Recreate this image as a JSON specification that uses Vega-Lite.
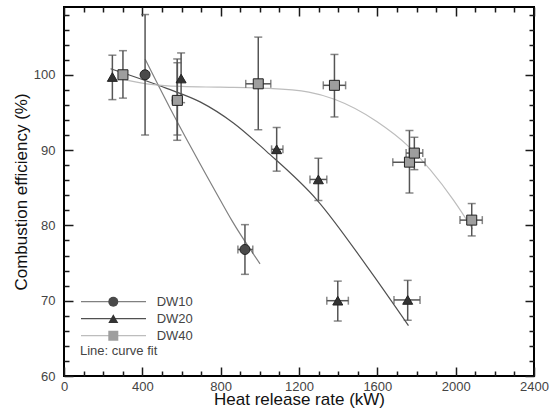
{
  "$schema": "https://vega.github.io/schema/vega-lite/v6.json",
  "width": 470,
  "height": 369,
  "autosize": {"type": "none"},
  "padding": {"left": 64, "top": 7, "right": 24, "bottom": 34},
  "background": "white",
  "config": {
    "font": "Liberation Sans",
    "view": {"stroke": "#000", "strokeWidth": 2},
    "axis": {
      "domain": false,
      "grid": false,
      "ticks": true,
      "tickColor": "#1a1a1a",
      "tickWidth": 1.5,
      "tickOpacity": 1,
      "labelFont": "Liberation Sans",
      "labelFontSize": 13,
      "labelColor": "#444",
      "labelFlush": false,
      "labelOverlap": false,
      "titleFont": "Liberation Sans",
      "titleFontSize": 17,
      "titleFontWeight": "normal",
      "titleColor": "#111"
    }
  },
  "datasets": {
    "points": [
      {"sample": "DW10", "x": 414, "y": 100.0, "ylo": 92.0, "yhi": 108.0},
      {"sample": "DW10", "x": 578, "y": 96.6, "ylo": 91.3, "yhi": 102.1, "xlo": 553, "xhi": 603},
      {"sample": "DW10", "x": 924, "y": 76.8, "ylo": 73.5, "yhi": 80.1, "xlo": 888, "xhi": 964},
      {"sample": "DW20", "x": 247, "y": 99.7, "ylo": 96.7, "yhi": 102.6},
      {"sample": "DW20", "x": 598, "y": 99.5, "ylo": 96.3, "yhi": 102.9},
      {"sample": "DW20", "x": 1086, "y": 90.1, "ylo": 87.2, "yhi": 93.0, "xlo": 1060, "xhi": 1118},
      {"sample": "DW20", "x": 1299, "y": 86.1, "ylo": 83.3, "yhi": 88.9, "xlo": 1256, "xhi": 1342},
      {"sample": "DW20", "x": 1398, "y": 70.0, "ylo": 67.3, "yhi": 72.6, "xlo": 1342, "xhi": 1452},
      {"sample": "DW20", "x": 1755, "y": 70.1, "ylo": 67.4, "yhi": 72.7, "xlo": 1685, "xhi": 1818},
      {"sample": "DW40", "x": 301, "y": 100.0, "ylo": 96.9, "yhi": 103.2},
      {"sample": "DW40", "x": 579, "y": 96.6, "ylo": 92.0, "yhi": 101.6},
      {"sample": "DW40", "x": 992, "y": 98.8, "ylo": 92.7, "yhi": 105.0, "xlo": 928, "xhi": 1056},
      {"sample": "DW40", "x": 1381, "y": 98.6, "ylo": 94.4, "yhi": 102.7, "xlo": 1324, "xhi": 1438},
      {"sample": "DW40", "x": 1764, "y": 88.4, "ylo": 84.3, "yhi": 92.6, "xlo": 1679, "xhi": 1844},
      {"sample": "DW40", "x": 1789, "y": 89.6, "ylo": 87.4, "yhi": 91.7, "xlo": 1747, "xhi": 1832},
      {"sample": "DW40", "x": 2082, "y": 80.7, "ylo": 78.6, "yhi": 82.9, "xlo": 2022, "xhi": 2136}
    ],
    "fits": [
      {"curve": "DW10", "x": 414, "y": 102.1},
      {"curve": "DW10", "x": 541, "y": 95.6},
      {"curve": "DW10", "x": 652, "y": 90.2},
      {"curve": "DW10", "x": 797, "y": 83.4},
      {"curve": "DW10", "x": 856, "y": 80.7},
      {"curve": "DW10", "x": 1001, "y": 74.9},
      {"curve": "DW20", "x": 238, "y": 100.8},
      {"curve": "DW20", "x": 524, "y": 98.2},
      {"curve": "DW20", "x": 695, "y": 96.4},
      {"curve": "DW20", "x": 865, "y": 93.6},
      {"curve": "DW20", "x": 1035, "y": 89.8},
      {"curve": "DW20", "x": 1291, "y": 83.4},
      {"curve": "DW20", "x": 1546, "y": 74.6},
      {"curve": "DW20", "x": 1759, "y": 66.7},
      {"curve": "DW40", "x": 300, "y": 99.4},
      {"curve": "DW40", "x": 422, "y": 98.8},
      {"curve": "DW40", "x": 600, "y": 98.45},
      {"curve": "DW40", "x": 797, "y": 98.35},
      {"curve": "DW40", "x": 1035, "y": 98.2},
      {"curve": "DW40", "x": 1250, "y": 97.7},
      {"curve": "DW40", "x": 1381, "y": 96.75},
      {"curve": "DW40", "x": 1597, "y": 93.8},
      {"curve": "DW40", "x": 1759, "y": 90.5},
      {"curve": "DW40", "x": 1988, "y": 83.4},
      {"curve": "DW40", "x": 2087, "y": 79.5}
    ]
  },
  "layer": [
    {
      "data": {"name": "fits"},
      "mark": {"type": "line", "strokeWidth": 1.2, "interpolate": "monotone"},
      "encoding": {
        "x": {
          "field": "x", "type": "quantitative",
          "scale": {"domain": [0, 2400], "nice": false, "zero": false},
          "axis": {
            "orient": "bottom",
            "values": [0, 400, 800, 1200, 1600, 2000, 2400],
            "format": "d",
            "ticks": false,
            "tickSize": 0,
            "labelPadding": 4,
            "title": "Heat release rate (kW)",
            "titlePadding": -2
          }
        },
        "y": {
          "field": "y", "type": "quantitative",
          "scale": {"domain": [60, 109], "nice": false, "zero": false},
          "axis": {
            "orient": "left",
            "values": [60, 70, 80, 90, 100],
            "format": "d",
            "ticks": false,
            "tickSize": 0,
            "labelPadding": 9,
            "title": "Combustion efficiency (%)",
            "titlePadding": 3
          }
        },
        "stroke": {
          "field": "curve", "type": "nominal",
          "scale": {"range": ["#808080", "#505050", "#bdbdbd"]},
          "legend": {
            "orient": "none", "legendX": 16, "legendY": 286.2,
            "title": "Line: curve fit", "titleOrient": "bottom", "titleAnchor": "start",
            "titleFont": "Liberation Sans", "titleFontSize": 13, "titleFontWeight": "normal",
            "titleColor": "#444", "titlePadding": 1,
            "clipHeight": 17, "rowPadding": 0, "padding": 0,
            "symbolType": "stroke", "symbolSize": 4225, "symbolStrokeWidth": 1.2,
            "labelExpr": "''", "labelFontSize": 13
          }
        }
      }
    },
    {
      "data": {"name": "points"},
      "mark": {"type": "rule", "color": "#555", "strokeWidth": 1.5},
      "encoding": {
        "x": {
          "field": "x", "type": "quantitative",
          "axis": {"orient": "top", "offset": -369, "values": [0, 400, 800, 1200, 1600, 2000, 2400], "labels": false, "ticks": true, "tickSize": 9, "title": null}
        },
        "y": {
          "field": "ylo", "type": "quantitative",
          "axis": {"orient": "right", "offset": -470, "values": [60, 70, 80, 90, 100], "labels": false, "ticks": true, "tickSize": 9, "title": null}
        },
        "y2": {"field": "yhi"}
      }
    },
    {
      "data": {"name": "points"},
      "transform": [{"filter": "isValid(datum.xlo)"}],
      "mark": {"type": "rule", "color": "#555", "strokeWidth": 1.5},
      "encoding": {
        "x": {
          "field": "xlo", "type": "quantitative",
          "axis": {"orient": "top", "offset": -369, "values": [100,200,300,500,600,700,900,1000,1100,1300,1400,1500,1700,1800,1900,2100,2200,2300], "labels": false, "ticks": true, "tickSize": 5, "title": null}
        },
        "x2": {"field": "xhi"},
        "y": {
          "field": "y", "type": "quantitative",
          "axis": {"orient": "right", "offset": -470, "values": [62,64,66,68,72,74,76,78,82,84,86,88,92,94,96,98,102,104,106,108], "labels": false, "ticks": true, "tickSize": 5, "title": null}
        }
      }
    },
    {
      "data": {"name": "points"},
      "transform": [{"fold": ["ylo", "yhi"], "as": ["end", "v"]}],
      "mark": {"type": "tick", "orient": "horizontal", "color": "#555", "size": 8, "thickness": 1.5},
      "encoding": {
        "x": {
          "field": "x", "type": "quantitative",
          "axis": {"orient": "bottom", "offset": -369, "values": [0, 400, 800, 1200, 1600, 2000, 2400], "labels": false, "ticks": true, "tickSize": 9, "title": null}
        },
        "y": {
          "field": "v", "type": "quantitative",
          "axis": {"orient": "left", "offset": -470, "values": [60, 70, 80, 90, 100], "labels": false, "ticks": true, "tickSize": 9, "title": null}
        }
      }
    },
    {
      "data": {"name": "points"},
      "transform": [{"fold": ["xlo", "xhi"], "as": ["end", "v"]}, {"filter": "isValid(datum.v)"}],
      "mark": {"type": "tick", "orient": "vertical", "color": "#555", "size": 8, "thickness": 1.5},
      "encoding": {
        "x": {
          "field": "v", "type": "quantitative",
          "axis": {"orient": "bottom", "offset": -369, "values": [100,200,300,500,600,700,900,1000,1100,1300,1400,1500,1700,1800,1900,2100,2200,2300], "labels": false, "ticks": true, "tickSize": 5, "title": null}
        },
        "y": {
          "field": "y", "type": "quantitative",
          "axis": {"orient": "left", "offset": -470, "values": [62,64,66,68,72,74,76,78,82,84,86,88,92,94,96,98,102,104,106,108], "labels": false, "ticks": true, "tickSize": 5, "title": null}
        }
      }
    },
    {
      "data": {"name": "points"},
      "mark": {"type": "point", "filled": true, "size": 100, "stroke": "#222", "strokeWidth": 1, "opacity": 1},
      "encoding": {
        "x": {"field": "x", "type": "quantitative", "axis": null},
        "y": {"field": "y", "type": "quantitative", "axis": null},
        "fill": {
          "field": "sample", "type": "nominal",
          "scale": {"range": ["#4a4a4a", "#333333", "#9e9e9e"]},
          "legend": {
            "orient": "none", "legendX": 42.8, "legendY": 286.2, "title": null,
            "clipHeight": 17, "rowPadding": 0, "padding": 0, "labelOffset": 36.9,
            "labelFontSize": 13, "labelColor": "#444", "labelFont": "Liberation Sans",
            "symbolSize": 100, "symbolStrokeColor": "#222", "symbolStrokeWidth": 1
          }
        },
        "shape": {
          "field": "sample", "type": "nominal",
          "scale": {"range": ["circle", "triangle-up", "square"]},
          "legend": {
            "orient": "none", "legendX": 42.8, "legendY": 286.2, "title": null,
            "clipHeight": 17, "rowPadding": 0, "padding": 0, "labelOffset": 36.9,
            "labelFontSize": 13, "labelColor": "#444", "labelFont": "Liberation Sans",
            "symbolSize": 100, "symbolStrokeColor": "#222", "symbolStrokeWidth": 1
          }
        }
      }
    }
  ],
  "resolve": {"axis": {"x": "independent", "y": "independent"}}
}
